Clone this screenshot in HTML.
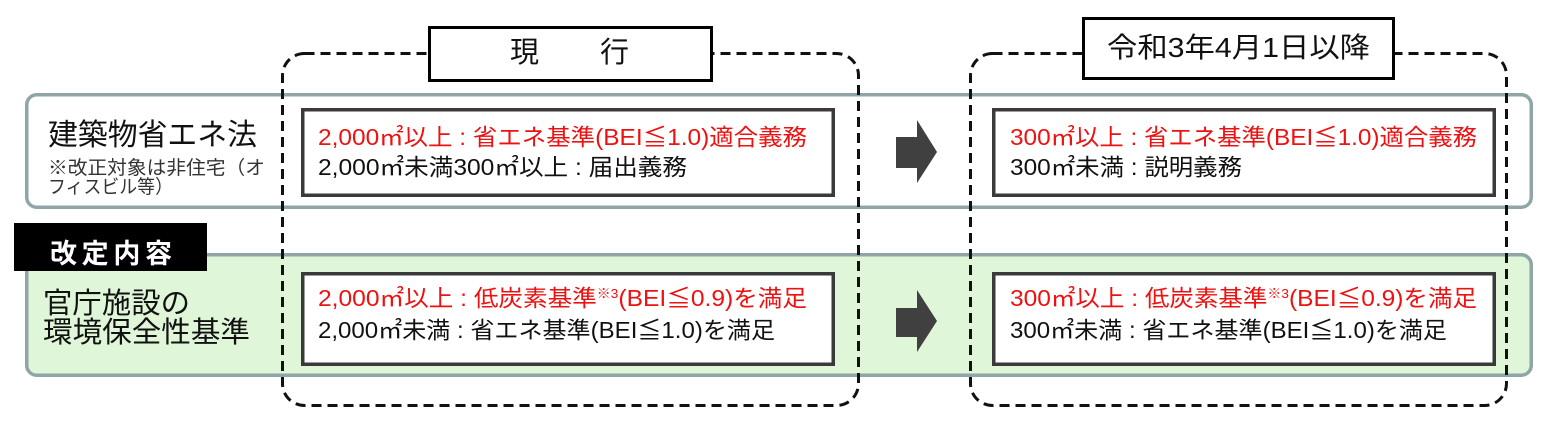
<!DOCTYPE html>
<html>
<head>
<meta charset="utf-8">
<style>
html,body{margin:0;padding:0;background:#fff;}
svg{display:block;}
text{font-family:"Liberation Sans","Noto Sans CJK JP",sans-serif;}
</style>
</head>
<body>
<svg width="1549" height="431" viewBox="0 0 1549 431" xmlns="http://www.w3.org/2000/svg">
  <rect x="0" y="0" width="1549" height="431" fill="#fff"/>

  <!-- panels -->
  <rect x="26.75" y="94.75" width="1504.5" height="112.5" rx="10" fill="#fff" stroke="#8fa5a6" stroke-width="3.5"/>
  <rect x="26.75" y="254.75" width="1504.5" height="120.5" rx="10" fill="#dff6d8" stroke="#8fa5a6" stroke-width="3.5"/>

  <!-- inner boxes -->
  <rect x="302.75" y="109.75" width="530.5" height="85.5" fill="#fff" stroke="#3a3a3a" stroke-width="3.5"/>
  <rect x="302.75" y="273.75" width="530.5" height="90.5" fill="#fff" stroke="#3a3a3a" stroke-width="3.5"/>
  <rect x="993.75" y="109.75" width="500.5" height="85.5" fill="#fff" stroke="#3a3a3a" stroke-width="3.5"/>
  <rect x="993.75" y="273.75" width="500.5" height="90.5" fill="#fff" stroke="#3a3a3a" stroke-width="3.5"/>

  <!-- arrows -->
  <polygon points="896,137 917,137 917,120 937,152 917,183 917,168 896,168" fill="#404040"/>
  <polygon points="896,308 917,308 917,290 937,321 917,352 917,337 896,337" fill="#404040"/>

  <!-- dashed containers -->
  <rect x="282.5" y="53.5" width="576" height="352" rx="22" fill="none" stroke="#111" stroke-width="3" stroke-dasharray="10 6"/>
  <rect x="970.5" y="53.5" width="536" height="352" rx="22" fill="none" stroke="#111" stroke-width="3" stroke-dasharray="10 6"/>

  <!-- header boxes -->
  <rect x="429.5" y="27.5" width="282" height="53" fill="#fff" stroke="#000" stroke-width="3"/>
  <text x="510" y="62" font-size="29" fill="#111">現</text>
  <text x="600" y="62" font-size="29" fill="#111">行</text>

  <rect x="1083.5" y="18.5" width="310" height="60" fill="#fff" stroke="#000" stroke-width="3"/>
  <text x="1107" y="57" font-size="28" fill="#111" textLength="263" lengthAdjust="spacingAndGlyphs">令和3年4月1日以降</text>

  <!-- left labels -->
  <text x="48" y="145" font-size="30" fill="#111" textLength="209" lengthAdjust="spacingAndGlyphs">建築物省エネ法</text>
  <text x="48" y="174" font-size="19" fill="#333" textLength="217" lengthAdjust="spacingAndGlyphs">※改正対象は非住宅（オ</text>
  <text x="48" y="193" font-size="19" fill="#333" textLength="125" lengthAdjust="spacingAndGlyphs">フィスビル等）</text>

  <rect x="14" y="223" width="193" height="48" fill="#000"/>
  <text x="50" y="263" font-size="27" font-weight="bold" fill="#fff" textLength="122" lengthAdjust="spacing">改定内容</text>

  <text x="43" y="313" font-size="29" fill="#111" textLength="147" lengthAdjust="spacingAndGlyphs">官庁施設の</text>
  <text x="43" y="342" font-size="29" fill="#111" textLength="207" lengthAdjust="spacingAndGlyphs">環境保全性基準</text>

  <!-- left inner texts -->
  <text x="318" y="145" font-size="23" fill="#ee1111" textLength="489" lengthAdjust="spacingAndGlyphs">2,000㎡以上 : 省エネ基準(BEI≦1.0)適合義務</text>
  <text x="318" y="175" font-size="23" fill="#111" textLength="369" lengthAdjust="spacingAndGlyphs">2,000㎡未満300㎡以上 : 届出義務</text>
  <text x="318" y="306" font-size="23" fill="#ee1111" textLength="489" lengthAdjust="spacingAndGlyphs">2,000㎡以上 : 低炭素基準<tspan font-size="13" dy="-8">※3</tspan><tspan dy="8">(BEI≦0.9)を満足</tspan></text>
  <text x="318" y="338" font-size="23" fill="#111" textLength="457" lengthAdjust="spacingAndGlyphs">2,000㎡未満 : 省エネ基準(BEI≦1.0)を満足</text>

  <!-- right inner texts -->
  <text x="1010" y="145" font-size="23" fill="#ee1111" textLength="467" lengthAdjust="spacingAndGlyphs">300㎡以上 : 省エネ基準(BEI≦1.0)適合義務</text>
  <text x="1010" y="175" font-size="23" fill="#111" textLength="232" lengthAdjust="spacingAndGlyphs">300㎡未満 : 説明義務</text>
  <text x="1010" y="306" font-size="23" fill="#ee1111" textLength="467" lengthAdjust="spacingAndGlyphs">300㎡以上 : 低炭素基準<tspan font-size="13" dy="-8">※3</tspan><tspan dy="8">(BEI≦0.9)を満足</tspan></text>
  <text x="1010" y="338" font-size="23" fill="#111" textLength="437" lengthAdjust="spacingAndGlyphs">300㎡未満 : 省エネ基準(BEI≦1.0)を満足</text>
</svg>
</body>
</html>
